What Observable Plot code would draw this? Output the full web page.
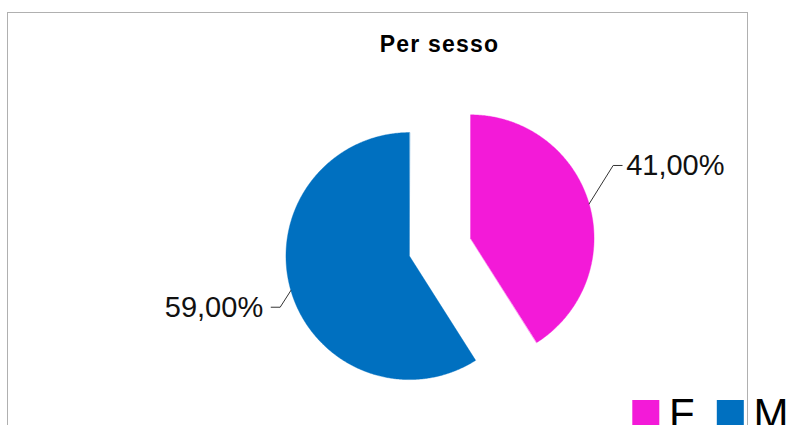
<!DOCTYPE html>
<html>
<head>
<meta charset="utf-8">
<script src="https://cdn.jsdelivr.net/npm/d3@7"></script>
<script src="https://cdn.jsdelivr.net/npm/@observablehq/plot@0.6"></script>
<style>
  html, body { margin: 0; padding: 0; background: #fff; overflow: hidden; }
  #wrap { position: relative; width: 787px; height: 425px; overflow: hidden; }
  #frame { position: absolute; left: 7px; top: 11.5px; width: 741px; height: 500px;
           border: 1.6px solid #b0b0b0; border-bottom: none; box-sizing: border-box; }
  #chart { position: absolute; left: 0; top: 0; }
</style>
</head>
<body>
<div id="wrap"><div id="frame"></div><div id="chart"></div></div>
<script>
// ---- data ----
const title = "Per sesso";
const categories = ["F", "M"];
const values = [41, 59];
const valueLabels = ["41,00%", "59,00%"];
const colors = ["#F31AD8", "#0070C0"];

// ---- layout ----
const W = 787, H = 425;
const cx = 439.5, cy = 246.7, R = 123.5, explode = 31.8;
const elbow = [[24, -38.4], [-10.7, 16.7]];   // leader elbow offsets from slice edge
const tick = [9, -9];                           // horizontal leader segment

const total = d3.sum(values);
let acc = 0;
const slices = values.map((v, i) => {
  const a0 = acc / total * 2 * Math.PI;
  acc += v;
  const a1 = acc / total * 2 * Math.PI;
  const mid = (a0 + a1) / 2;
  const ox = cx + explode * Math.sin(mid), oy = cy - explode * Math.cos(mid);
  const pts = [{x: ox, y: oy}];
  const n = Math.ceil((a1 - a0) / (Math.PI / 360));
  for (let k = 0; k <= n; k++) {
    const a = a0 + (a1 - a0) * k / n;
    pts.push({x: ox + R * Math.sin(a), y: oy - R * Math.cos(a)});
  }
  const edge = {x: ox + R * Math.sin(mid), y: oy - R * Math.cos(mid)};
  const el = {x: edge.x + elbow[i][0], y: edge.y + elbow[i][1]};
  const end = {x: el.x + tick[i], y: el.y};
  return {cat: categories[i], label: valueLabels[i], color: colors[i], pts,
          leader: [edge, el, end], text: {x: end.x + (tick[i] > 0 ? 4 : -8), y: end.y + 0.7, anchor: tick[i] > 0 ? "start" : "end"}};
});

const legend = categories.map((c, i) => ({cat: c, color: colors[i], x: 632.3 + i * 84.5}));

const marks = [];
slices.forEach(s => {
  marks.push(Plot.line(s.pts, {x: "x", y: "y", fill: s.color, stroke: s.color, strokeWidth: 0.4, curve: "linear-closed"}));
  marks.push(Plot.line(s.leader, {x: "x", y: "y", stroke: "#333", strokeWidth: 1}));
  marks.push(Plot.text([s.text], {x: "x", y: "y", text: () => s.label, textAnchor: s.text.anchor,
    lineAnchor: "middle", fontSize: 29, fill: "#111", fontFamily: "Liberation Sans, Arial, sans-serif"}));
});
marks.push(Plot.text([{x: 439, y: 44.5}], {x: "x", y: "y", text: () => title, fontSize: 23, fontWeight: "bold",
  lineAnchor: "middle", fill: "#000", fontFamily: "Liberation Sans, Arial, sans-serif"}));
marks.push(Plot.rect(legend, {x1: "x", x2: d => d.x + 27, y1: 400, y2: 427, fill: "color"}));
marks.push(Plot.text(legend, {x: d => d.x + 36.2, y: 427.5, text: "cat", textAnchor: "start", lineAnchor: "bottom",
  fontSize: 42, fill: "#000", fontFamily: "Liberation Sans, Arial, sans-serif"}));

const plot = Plot.plot({
  width: W, height: H,
  margin: 0,
  x: {domain: [0, W], range: [0, W], axis: null},
  y: {domain: [0, H], range: [0, H], axis: null},
  color: {type: "identity"},
  style: {background: "transparent", overflow: "visible"},
  marks
});
document.getElementById("chart").appendChild(plot);
d3.select(plot).selectAll("text").filter(function() { return this.textContent === title; })
  .attr("letter-spacing", "1.2px");
</script>
</body>
</html>
